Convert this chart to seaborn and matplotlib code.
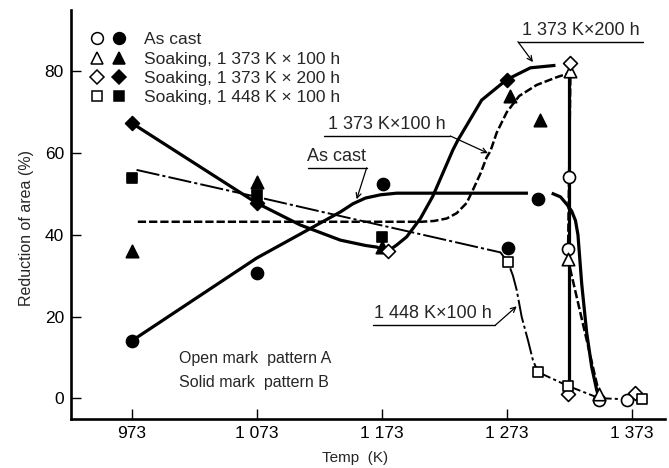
import numpy as np
import pandas as pd
import matplotlib
matplotlib.use("Agg")
import matplotlib.pyplot as plt
import seaborn as sns
from matplotlib.legend_handler import HandlerTuple
from matplotlib.lines import Line2D

# ---- measured points: temperature (K) and reduction of area (%) ----
# As cast
cast_open_T = [1323, 1322, 1347, 1369]
cast_open_v = [54.2, 36.5, -0.5, -0.5]
cast_solid_T = [973, 1073, 1174, 1274, 1298]
cast_solid_v = [14.0, 30.6, 52.5, 36.7, 48.8]
# Soaking 1373 K x 100 h
s100_open_T = [1324, 1322, 1347]
s100_open_v = [80.0, 34.0, 1.0]
s100_solid_T = [973, 1073, 1173, 1276, 1300]
s100_solid_v = [36.0, 53.0, 37.0, 74.0, 68.0]
# Soaking 1373 K x 200 h
s200_open_T = [1324, 1178, 1322, 1376]
s200_open_v = [82.0, 36.0, 1.0, 1.2]
s200_solid_T = [973, 1073, 1273]
s200_solid_v = [67.4, 47.8, 78.0]
# Soaking 1448 K x 100 h
s1448_open_T = [1274, 1298, 1322, 1381]
s1448_open_v = [33.3, 6.4, 3.0, -0.2]
s1448_solid_T = [973, 1073, 1173]
s1448_solid_v = [54.0, 49.8, 39.5]

# ---- trend curves (segment ids split a curve into separate strokes) ----
cast_curve_T = [973, 1073, 1140, 1150, 1160, 1172, 1185, 1290,
                1309, 1316, 1321, 1325, 1328, 1330, 1333, 1337, 1341, 1345, 1347]
cast_curve_v = [14.0, 34.3, 45.6, 47.6, 49.0, 49.8, 50.2, 50.2,
                50.2, 49.3, 47.5, 45.8, 43.5, 40.0, 28.0, 16.0, 7.6, 2.0, 0.0]
cast_curve_seg = [0] * 8 + [1] * 11

s100_curve_T = [978, 1173, 1205, 1215, 1225, 1233, 1241, 1246, 1252, 1257,
                1260, 1265, 1273, 1283, 1297, 1313, 1321, 1324, 1322, 1347]
s100_curve_v = [43.2, 43.2, 43.2, 43.4, 44.0, 45.3, 47.8, 51.0, 55.0, 59.0,
                60.5, 65.0, 70.0, 74.0, 76.7, 78.6, 79.4, 80.0, 34.0, 1.0]

s200_curve_T = [973, 1073, 1108, 1140, 1160, 1169, 1178, 1185, 1193, 1204,
                1214, 1230, 1234, 1253, 1273, 1292, 1312, 1323, 1323]
s200_curve_v = [67.4, 47.8, 42.4, 38.7, 37.4, 37.0, 36.0, 37.5, 39.5, 44.0,
                49.5, 60.8, 63.2, 73.0, 78.0, 80.9, 81.5, 80.0, 1.0]
s200_curve_seg = [0] * 17 + [1] * 2

s1448_curve_T = [977, 1073, 1140, 1268, 1274, 1278, 1281, 1285, 1290, 1294,
                 1298, 1322, 1347, 1371]
s1448_curve_v = [55.9, 49.3, 44.6, 35.7, 33.3, 30.0, 26.5, 19.9, 14.2, 9.3,
                 6.4, 3.0, 0.0, -0.3]

x_ticks = [973, 1073, 1173, 1273, 1373]
x_ticklabels = ["973", "1 073", "1 173", "1 273", "1 373"]
y_ticks = [0, 20, 40, 60, 80]

# ---- style ----
sns.set_style("ticks")
plt.rcParams["font.family"] = ["Liberation Sans", "DejaVu Sans"]

fig = plt.figure(figsize=(6.69, 4.68), dpi=100)
ax = fig.add_axes([0.106, 0.1047, 0.994 - 0.106, 0.979 - 0.1047])

def curve(T, v, seg=None, **kw):
    df = pd.DataFrame({"T": T, "v": v,
                       "seg": seg if seg is not None else [0] * len(T)})
    sns.lineplot(data=df, x="T", y="v", units="seg", estimator=None,
                 sort=False, color="black", ax=ax, zorder=2, **kw)

curve(cast_curve_T, cast_curve_v, cast_curve_seg, linewidth=2.3,
      solid_capstyle="butt", solid_joinstyle="round")
curve(s200_curve_T, s200_curve_v, s200_curve_seg, linewidth=2.3,
      solid_capstyle="butt", solid_joinstyle="round")
curve(s100_curve_T, s100_curve_v, linewidth=1.8,
      linestyle=(0, (3.3, 1.2)))
curve(s1448_curve_T, s1448_curve_v, linewidth=1.4,
      linestyle=(0, (12.0, 1.6, 1.6, 1.6)))

def points(T, v, marker, filled, size):
    sns.scatterplot(x=T, y=v, marker=marker, s=size, ax=ax, zorder=4,
                    color="black" if filled else "white",
                    edgecolor="black", linewidth=1.2, legend=False)

points(cast_open_T, cast_open_v, "o", False, 75)
points(cast_solid_T, cast_solid_v, "o", True, 75)
points(s100_open_T, s100_open_v, "^", False, 80)
points(s100_solid_T, s100_solid_v, "^", True, 80)
points(s200_open_T, s200_open_v, "D", False, 50)
points(s200_solid_T, s200_solid_v, "D", True, 50)
points(s1448_open_T, s1448_open_v, "s", False, 55)
points(s1448_solid_T, s1448_solid_v, "s", True, 55)

# ---- axes ----
ax.set_xlim(924.5, 1399.6)
ax.set_ylim(-5.1, 95.1)
ax.set_xticks(x_ticks)
ax.set_xticklabels(x_ticklabels)
ax.set_yticks(y_ticks)
ax.tick_params(direction="in", length=7, width=1.0, labelsize=12.5,
               pad=5, colors="black")
sns.despine(ax=ax)
for side in ("left", "bottom"):
    ax.spines[side].set_linewidth(1.9)
    ax.spines[side].set_color("black")
ax.set_xlabel("Temp  (K)", fontsize=11)
ax.set_ylabel("Reduction of area (%)", fontsize=11.5)
ax.xaxis.set_label_coords(0.478, -0.078)
ax.yaxis.set_label_coords(-0.062, 0.467)

# ---- legend: open / solid mark pairs ----
def mk(marker, filled, ms):
    return Line2D([], [], linestyle="none", marker=marker, markersize=ms,
                  markerfacecolor="black" if filled else "white",
                  markeredgecolor="black", markeredgewidth=1.1)

handles = [(mk("o", False, 8.5), mk("o", True, 8.5)),
           (mk("^", False, 8.5), mk("^", True, 8.5)),
           (mk("D", False, 7), mk("D", True, 7)),
           (mk("s", False, 7.5), mk("s", True, 7.5))]
labels = ["As cast",
          "Soaking, 1 373 K \u00d7 100 h",
          "Soaking, 1 373 K \u00d7 200 h",
          "Soaking, 1 448 K \u00d7 100 h"]
ax.legend(handles, labels, handler_map={tuple: HandlerTuple(ndivide=None, pad=0.4)},
          loc="upper left", bbox_to_anchor=(0.03, 0.945), frameon=False,
          fontsize=12.5, handlelength=2.2, handletextpad=1.0,
          labelspacing=0.24, borderpad=0, borderaxespad=0)

# ---- curve captions with underline and leader arrow ----
def caption(text, tx, ty, u0, u1, uy, ax_end, ay_end, ha_from_right=True):
    ax.text(tx, ty, text, ha="center", va="bottom", fontsize=13, zorder=5)
    ax.plot([u0, u1], [uy, uy], color="black", lw=1.0, zorder=5)
    start = (u1, uy) if ha_from_right else (u0, uy)
    ax.annotate("", xy=(ax_end, ay_end), xytext=start,
                arrowprops=dict(arrowstyle="->", lw=0.9, color="black",
                                shrinkA=0, shrinkB=0, mutation_scale=9),
                zorder=5)

caption("1 373 K\u00d7200 h", 1332, 88.0, 1282, 1382, 87.3, 1294, 82.3,
        ha_from_right=False)
caption("1 373 K\u00d7100 h", 1177, 64.9, 1127, 1228, 64.2, 1258, 60.0)
caption("As cast", 1137, 57.1, 1114, 1161, 56.4, 1153, 48.7)
caption("1 448 K\u00d7100 h", 1214, 18.6, 1166, 1264, 17.9, 1281, 22.5)

ax.text(1011, 9.8, "Open mark  pattern A", fontsize=11.5, va="center")
ax.text(1011, 3.9, "Solid mark  pattern B", fontsize=11.5, va="center")

fig.savefig("out.png", dpi=100)
